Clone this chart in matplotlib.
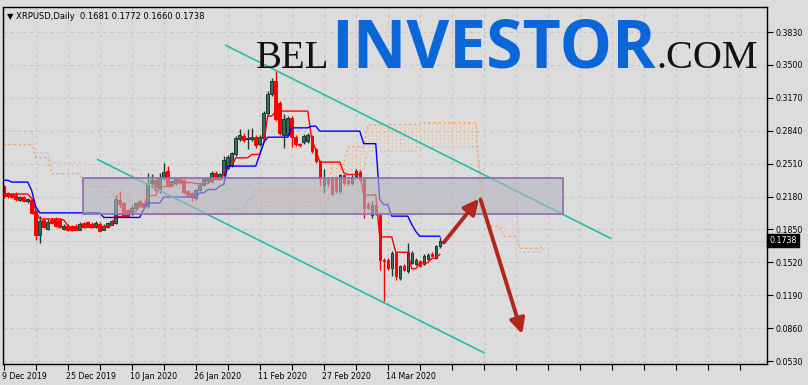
import numpy as np
import matplotlib
matplotlib.use("Agg")
import matplotlib.pyplot as plt
from matplotlib.patches import Rectangle
import matplotlib.transforms as mtransforms

# ---------------- data ----------------
opens = [0.2290, 0.2217, 0.2207, 0.2200, 0.2150, 0.2177, 0.2133, 0.2150, 0.2033, 0.1798,
         0.1942, 0.1855, 0.1949, 0.1955, 0.1949, 0.1855, 0.1889, 0.1882, 0.1889, 0.1849,
         0.1916, 0.1922, 0.1909, 0.1875, 0.1909, 0.1849, 0.1875, 0.1899, 0.1916, 0.2150,
         0.2116, 0.2043, 0.2009, 0.2060, 0.2133, 0.2110, 0.2083, 0.2311, 0.2344, 0.2250,
         0.2367, 0.2434, 0.2300, 0.2317, 0.2357, 0.2344, 0.2234, 0.2217, 0.2167, 0.2250,
         0.2300, 0.2334, 0.2334, 0.2418, 0.2357, 0.2401, 0.2468, 0.2491, 0.2602, 0.2752,
         0.2792, 0.2752, 0.2752, 0.2779, 0.2702, 0.2769, 0.3020, 0.3204, 0.3338, 0.3121,
         0.2802, 0.2802, 0.2970, 0.2779, 0.2702, 0.2725, 0.2735, 0.2785, 0.2652, 0.2535,
         0.2300, 0.2357, 0.2351, 0.2357, 0.2234, 0.2391, 0.2344, 0.2311, 0.2384, 0.2424,
         0.2357, 0.2100, 0.1999, 0.2090, 0.1999, 0.1547, 0.1547, 0.1464, 0.1614, 0.1363,
         0.1480, 0.1430, 0.1514, 0.1507, 0.1531, 0.1507, 0.1554, 0.1607, 0.1564, 0.1681]
highs = [0.2300, 0.2230, 0.2220, 0.2225, 0.2185, 0.2190, 0.2170, 0.2165, 0.2045, 0.1983,
         0.1960, 0.1950, 0.1965, 0.1970, 0.1960, 0.1900, 0.1900, 0.1895, 0.1900, 0.1920,
         0.1925, 0.1935, 0.1920, 0.1930, 0.1920, 0.1900, 0.1925, 0.1945, 0.2200, 0.2234,
         0.2130, 0.2055, 0.2090, 0.2125, 0.2150, 0.2120, 0.2418, 0.2401, 0.2360, 0.2418,
         0.2518, 0.2485, 0.2350, 0.2370, 0.2370, 0.2360, 0.2250, 0.2230, 0.2260, 0.2315,
         0.2365, 0.2375, 0.2440, 0.2434, 0.2415, 0.2585, 0.2600, 0.2630, 0.2792, 0.2853,
         0.2815, 0.2853, 0.2869, 0.2795, 0.2800, 0.3037, 0.3237, 0.3371, 0.3438, 0.3140,
         0.3003, 0.2990, 0.2990, 0.2795, 0.2715, 0.2805, 0.2820, 0.2800, 0.2665, 0.2550,
         0.2451, 0.2375, 0.2370, 0.2375, 0.2410, 0.2410, 0.2360, 0.2395, 0.2451, 0.2445,
         0.2370, 0.2120, 0.2133, 0.2110, 0.2016, 0.1560, 0.1560, 0.1631, 0.1625, 0.1495,
         0.1500, 0.1715, 0.1630, 0.1565, 0.1545, 0.1600, 0.1615, 0.1620, 0.1695, 0.1772]
lows = [0.2170, 0.2170, 0.2165, 0.2135, 0.2135, 0.2120, 0.2115, 0.2000, 0.1742, 0.1715,
        0.1860, 0.1840, 0.1905, 0.1870, 0.1860, 0.1845, 0.1835, 0.1830, 0.1840, 0.1840,
        0.1865, 0.1870, 0.1865, 0.1865, 0.1825, 0.1840, 0.1865, 0.1890, 0.1900, 0.2066,
        0.1985, 0.1970, 0.1995, 0.2050, 0.2070, 0.2060, 0.2066, 0.2267, 0.2230, 0.2217,
        0.2350, 0.2284, 0.2285, 0.2300, 0.2310, 0.2210, 0.2185, 0.2140, 0.2150, 0.2240,
        0.2290, 0.2320, 0.2320, 0.2355, 0.2345, 0.2390, 0.2455, 0.2475, 0.2585, 0.2735,
        0.2730, 0.2659, 0.2740, 0.2670, 0.2685, 0.2750, 0.3000, 0.3185, 0.2940, 0.2795,
        0.2669, 0.2785, 0.2679, 0.2690, 0.2680, 0.2710, 0.2720, 0.2620, 0.2520, 0.2284,
        0.2217, 0.2290, 0.2195, 0.2215, 0.2220, 0.2300, 0.2295, 0.2295, 0.2370, 0.2340,
        0.1966, 0.2050, 0.1966, 0.1995, 0.1447, 0.1129, 0.1440, 0.1380, 0.1347, 0.1340,
        0.1430, 0.1415, 0.1500, 0.1490, 0.1475, 0.1495, 0.1540, 0.1570, 0.1550, 0.1660]
closes = [0.2183, 0.2183, 0.2177, 0.2157, 0.2173, 0.2133, 0.2157, 0.2016, 0.1798, 0.1932,
          0.1875, 0.1922, 0.1915, 0.1882, 0.1872, 0.1889, 0.1849, 0.1849, 0.1849, 0.1909,
          0.1875, 0.1882, 0.1875, 0.1916, 0.1832, 0.1889, 0.1916, 0.1932, 0.2157, 0.2100,
          0.1999, 0.1983, 0.2066, 0.2110, 0.2083, 0.2076, 0.2300, 0.2344, 0.2244, 0.2367,
          0.2424, 0.2300, 0.2334, 0.2351, 0.2324, 0.2223, 0.2200, 0.2177, 0.2244, 0.2300,
          0.2351, 0.2357, 0.2418, 0.2367, 0.2401, 0.2551, 0.2578, 0.2612, 0.2769, 0.2802,
          0.2746, 0.2769, 0.2779, 0.2692, 0.2779, 0.3013, 0.3204, 0.3338, 0.2960, 0.2813,
          0.2953, 0.2970, 0.2779, 0.2702, 0.2692, 0.2792, 0.2802, 0.2635, 0.2535, 0.2367,
          0.2357, 0.2311, 0.2210, 0.2234, 0.2391, 0.2317, 0.2311, 0.2377, 0.2434, 0.2357,
          0.2066, 0.2066, 0.2090, 0.2009, 0.1547, 0.1531, 0.1464, 0.1614, 0.1380, 0.1480,
          0.1447, 0.1621, 0.1614, 0.1547, 0.1487, 0.1581, 0.1597, 0.1581, 0.1681, 0.1738]

tenkan = ([0.2205] * 7 + [0.2160, 0.2040] + [0.1955] * 6 + [0.1945, 0.1890, 0.1860]
          + [0.1870] * 5 + [0.1880] * 4 + [0.1890] + [0.1980] * 4 + [0.2030] * 2
          + [0.2083] * 2 + [0.2190] * 3 + [0.2280] * 4 + [0.2320] * 5 + [0.2310] * 4
          + [0.2350] * 3 + [0.2400] + [0.2485] * 2 + [0.2568] * 4 + [0.2602] * 3
          + [0.2719] + [0.2987] * 2 + [0.3037] * 9 + [0.2752, 0.2652] + [0.2525] * 6
          + [0.2418] + [0.2401] * 4 + [0.2195] * 4 + [0.1775] * 4 + [0.1621] * 4
          + [0.1455] * 2 + [0.1514] * 3 + [0.1560] * 2 + [0.1600])
kijun = ([0.2343] * 2 + [0.2325] * 5 + [0.2240, 0.2080] + [0.2016] * 16 + [0.1970] * 10
         + [0.2050] + [0.2115] * 4 + [0.2175] * 9 + [0.2217] * 2 + [0.2250] * 3
         + [0.2284, 0.2300] + [0.2485] * 8 + [0.2600, 0.2720] + [0.2775] * 6
         + [0.2869] * 5 + [0.2886] * 2 + [0.2836] * 11 + [0.2710] * 4 + [0.2150]
         + [0.2100] * 2 + [0.1983] * 5 + [0.1900, 0.1830] + [0.1782] * 6)
span_a = ([0.270] * 8 + [0.257] * 4 + [0.241] * 8 + [0.228] * 7 + [0.220] * 5
          + [0.210] * 3 + [0.200] * 21 + [0.205] * 5 + [0.215] * 2 + [0.224] * 19
          + [0.250] * 4 + [0.268] * 5 + [0.290] * 14 + [0.292] * 14 + [0.240]
          + [0.195] * 2 + [0.188] * 3 + [0.178] * 4 + [0.166] * 6 + [0.169])
span_b = ([0.284] * 8 + [0.262] * 4 + [0.252] * 8 + [0.250] * 7 + [0.252] * 5
          + [0.245] * 3 + [0.235] * 21 + [0.225] * 5 + [0.215] * 2 + [0.208] * 19
          + [0.235] * 4 + [0.245] * 5 + [0.2635] * 14 + [0.268] * 14 + [0.245]
          + [0.229] * 9 + [0.162] * 6 + [0.166])

price_ticks = [0.0530, 0.0860, 0.1190, 0.1520, 0.1850, 0.2180, 0.2510, 0.2840, 0.3170, 0.3500, 0.3830]
date_ticks = [0, 16, 32, 48, 64, 80, 96]
date_labels = ["9 Dec 2019", "25 Dec 2019", "10 Jan 2020", "26 Jan 2020",
               "11 Feb 2020", "27 Feb 2020", "14 Mar 2020"]
last_price = 0.1738

# drawn objects (bar index, price)
upper_channel = ([55.5, 151.75], [0.3697, 0.1760])
lower_channel = ([23.5, 120.0], [0.2551, 0.0614])
zone = (19.75, 139.75, 0.2000, 0.2369)
arrow_up = ((110.0, 0.1718), (118.8, 0.2158))
arrow_down = ((119.2, 0.2150), (129.6, 0.0800))

# ---------------- figure ----------------
BG = "#dcdcdc"
W, H = 808, 385
fig = plt.figure(figsize=(W / 100, H / 100), dpi=100, facecolor=BG)
ax = fig.add_axes([2.5 / W, 21 / H, (767 - 2.5) / W, (364 - 7) / H])
ax.set_facecolor(BG)
ax.set_xlim(-0.3, 190.8)
ax.set_ylim(0.0500, 0.4081)

# grid
for gx in range(0, 191, 8):
    ax.axvline(gx, color="#c6c6c6", lw=0.8, ls=(0, (3, 3)), zorder=0)
for gy in price_ticks:
    ax.axhline(gy, color="#c6c6c6", lw=0.8, ls=(0, (3, 3)), zorder=0)

# last price line
ax.axhline(last_price, color="#cfcfcf", lw=0.7, zorder=0.5)

# ichimoku cloud (dotted hatching between the spans)
xc = np.arange(len(span_a))
sa = np.array(span_a)
sb = np.array(span_b)
hatch_col = np.where(sa >= sb, "#f4a460", "#d8bfd8")
ax.vlines(xc, np.minimum(sa, sb), np.maximum(sa, sb), colors=hatch_col,
          lw=0.6, linestyles=(0, (1.5, 3)), alpha=0.85, zorder=1)
ax.plot(xc, sa, color="#f4a460", lw=0.9, ls=(0, (2, 2)), zorder=1.2)
ax.plot(xc, sb, color="#d8bfd8", lw=0.9, ls=(0, (2, 2)), zorder=1.1)

# candles
o = np.array(opens)
h = np.array(highs)
l = np.array(lows)
c = np.array(closes)
x = np.arange(len(o))
up = c >= o
wick_col = np.where(up, "#1d3a30", "#ff0000")
ax.vlines(x, l, h, colors=wick_col, lw=1.0, zorder=2)
body_h = np.maximum(np.abs(c - o), 0.0009)
ax.bar(x[up], body_h[up], bottom=o[up], width=0.62, color="#3a6b5b",
       edgecolor="#1d3a30", lw=0.7, zorder=2.1)
ax.bar(x[~up], body_h[~up], bottom=c[~up], width=0.62, color="#ff0000",
       edgecolor="#ff0000", lw=0.7, zorder=2.1)

# tenkan / kijun
ax.plot(np.arange(len(tenkan)), tenkan, color="#ff0000", lw=1.0, zorder=3)
ax.plot(np.arange(len(kijun)), kijun, color="#0000ff", lw=1.0, zorder=3)

# channel lines
ax.plot(*upper_channel, color="#20c0a8", lw=1.2, zorder=4)
ax.plot(*lower_channel, color="#20c0a8", lw=1.2, zorder=4)

# zone rectangle
x0, x1, y0, y1 = zone
ax.add_patch(Rectangle((x0, y0), x1 - x0, y1 - y0, facecolor="#b4b4bc",
                       alpha=0.6, edgecolor="none", zorder=5))
ax.add_patch(Rectangle((x0, y0), x1 - x0, y1 - y0, facecolor="none",
                       edgecolor="#9272b4", lw=1.3, zorder=5.1))

# arrows
for (xs, ys), (xe, ye) in (arrow_up, arrow_down):
    ax.annotate("", xy=(xe, ye), xytext=(xs, ys),
                arrowprops=dict(arrowstyle="-|>,head_length=0.9,head_width=0.45",
                                color="#b3261e", lw=2.8, shrinkA=0, shrinkB=0),
                zorder=6)

# axes styling
for s in ax.spines.values():
    s.set_color("black")
    s.set_linewidth(1.0)
ax.yaxis.tick_right()
ax.set_yticks(price_ticks)
ax.set_yticklabels([f"{p:.4f}" for p in price_ticks])
ax.set_xticks(list(range(0, 191, 8)))
ax.set_xticklabels([date_labels[date_ticks.index(t)] if t in date_ticks else ""
                    for t in range(0, 191, 8)])
ax.tick_params(axis="both", direction="out", length=4, width=0.8, color="black",
               labelsize=5.7, labelcolor="black")
ax.tick_params(axis="y", pad=2)
ax.tick_params(axis="x", pad=2)
offset = mtransforms.ScaledTranslation(-2 / 100, 0, fig.dpi_scale_trans)
for lab in ax.get_xticklabels():
    lab.set_horizontalalignment("left")
    lab.set_transform(lab.get_transform() + offset)

# last price tag
tr = mtransforms.blended_transform_factory(ax.transAxes, ax.transData)
ax.text(1.003, last_price, "0.1738", transform=tr, ha="left", va="center",
        fontsize=5.7, color="white", clip_on=False, zorder=10,
        bbox=dict(boxstyle="square,pad=0.25", fc="black", ec="black"))

# header
ax.text(0.006, 0.985, "\u25bc XRPUSD,Daily  0.1681 0.1772 0.1660 0.1738",
        transform=ax.transAxes, ha="left", va="top", fontsize=6.0, color="black",
        zorder=10)

# watermark
base = 1 - 68 / H
fig.text(329 / W, base, "BEL", family="Liberation Serif", fontsize=28,
         color="#111111", ha="right", va="baseline", zorder=8)
fig.text(331 / W, base, "INVESTOR", family="Open Sans", weight="bold", fontsize=47.5,
         color="#0b67d8", ha="left", va="baseline", zorder=8)
fig.text(656 / W, base, ".COM", family="Liberation Serif", fontsize=29,
         color="#111111", ha="left", va="baseline", zorder=8)

fig.savefig("out.png", dpi=100, facecolor=BG)
